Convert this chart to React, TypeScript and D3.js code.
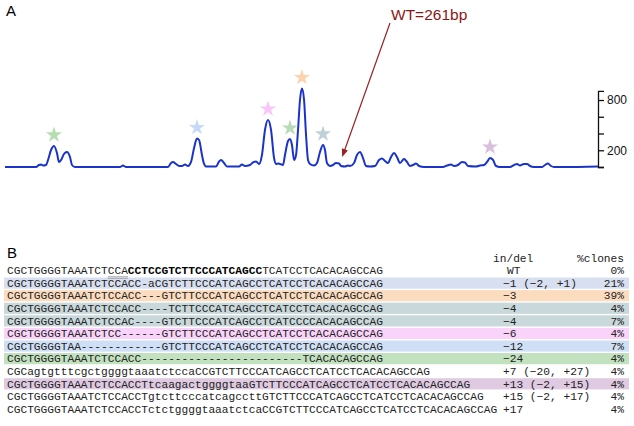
import React, { useEffect, useRef } from "react";
import * as d3 from "d3";

// fragment analysis trace: [size (bp), intensity (RFU)]
const trace: [number, number][] = [
  [232.0, 0], [234.67, 0], [234.92, 24], [235.1, 30], [235.27, 18], [235.53, 24],
  [235.7, 84], [235.96, 203], [236.21, 251], [236.47, 167], [236.64, 60], [236.82, 84],
  [237.07, 155], [237.33, 179], [237.59, 119], [237.76, 24], [238.02, 0], [241.89, 0],
  [242.15, 18], [242.41, 0], [246.02, 0], [246.28, 48], [246.45, 60], [246.71, 36],
  [246.97, 12], [247.22, 12], [247.48, 30], [247.74, 12], [248.0, 60], [248.26, 227],
  [248.51, 340], [248.69, 322], [248.94, 143], [249.12, 36], [249.29, 6], [250.15, 6],
  [250.41, 66], [250.58, 84], [250.84, 48], [251.09, 6], [252.13, 6], [252.38, 30],
  [252.64, 12], [253.07, 24], [253.33, 54], [253.59, 66], [253.85, 36], [254.1, 143],
  [254.36, 442], [254.62, 561], [254.88, 442], [255.14, 107], [255.31, 36], [255.48, 42],
  [255.65, 36], [255.91, 24], [256.08, 143], [256.34, 310], [256.51, 334], [256.68, 263],
  [256.86, 84], [257.03, 143], [257.2, 442], [257.37, 800], [257.54, 937], [257.72, 800],
  [257.89, 382], [258.06, 84], [258.23, 36], [258.58, 18], [258.83, 48], [259.09, 179],
  [259.35, 263], [259.52, 203], [259.69, 48], [259.95, 12], [260.21, 24], [260.47, 48],
  [260.73, 42], [260.9, 12], [261.24, 6], [261.5, 18], [261.67, 12], [262.02, 48],
  [262.27, 143], [262.53, 179], [262.79, 107], [263.05, 12], [263.39, 6], [263.82, 12],
  [264.17, 84], [264.42, 101], [264.68, 72], [264.94, 48], [265.2, 119], [265.46, 167],
  [265.71, 119], [265.97, 48], [266.32, 96], [266.57, 60], [266.83, 12], [267.09, 24],
  [267.35, 42], [267.61, 12], [268.04, 0], [269.67, 0], [270.02, 18], [270.36, 30],
  [270.62, 12], [270.96, 24], [271.31, 60], [271.56, 54], [271.82, 12], [272.51, 6],
  [272.85, 18], [273.2, 24], [273.46, 60], [273.71, 107], [273.97, 84], [274.23, 12],
  [274.57, 0], [275.43, 0], [275.78, 24], [276.04, 36], [276.29, 18], [276.64, 36],
  [276.9, 36], [277.15, 12], [277.5, 0], [278.19, 0], [278.44, 24], [278.7, 42],
  [278.96, 12], [279.22, 0], [279.99, 0], [283.0, 6],
];

// peaks marked with a star
const starSizes = [236.21, 248.51, 254.62, 256.51, 257.54, 259.35, 273.71];
const starRfu = [251, 340, 561, 334, 937, 263, 107];
const starColors = ["#b6dcb1", "#c6d9f6", "#f8c6f8", "#b9dcb8", "#fdd3ae", "#bfd0d7", "#d9bedd"];

const yTicks = [0, 200, 400, 600, 800];
const yLabelled = [200, 800];
const wtSize = 261;
const wtRfu = 120;
const wtLabel = "WT=261bp";

const sequences = [
  "CGCTGGGGTAAATCTCCACCTCCGTCTTCCCATCAGCCTCATCCTCACACAGCCAG",
  "CGCTGGGGTAAATCTCCACC-aCGTCTTCCCATCAGCCTCATCCTCACACAGCCAG",
  "CGCTGGGGTAAATCTCCACC---GTCTTCCCATCAGCCTCATCCTCACACAGCCAG",
  "CGCTGGGGTAAATCTCCACC----TCTTCCCATCAGCCTCATCCTCACACAGCCAG",
  "CGCTGGGGTAAATCTCCAC----GTCTTCCCATCAGCCTCATCCCCACACAGCCAG",
  "CGCTGGGGTAAATCTCC------GTCTTCCCATCAGCCTCATCCTCACACAGCCAG",
  "CGCTGGGGTAA------------GTCTTCCCATCAGCCTCATCCTCACACAGCCAG",
  "CGCTGGGGTAAATCTCCACC------------------------TCACACAGCCAG",
  "CGCagtgtttcgctggggtaaatctccaCCGTCTTCCCATCAGCCTCATCCTCACACAGCCAG",
  "CGCTGGGGTAAATCTCCACCTtcaagactggggtaaGTCTTCCCATCAGCCTCATCCTCACACAGCCAG",
  "CGCTGGGGTAAATCTCCACCTgtcttcccatcagccttGTCTTCCCATCAGCCTCATCCTCACACAGCCAG",
  "CGCTGGGGTAAATCTCCACCTctctggggtaaatctcaCCGTCTTCCCATCAGCCTCATCCTCACACAGCCAG",
];
const indels = [
  "WT", "\u22121 (\u22122, +1)", "\u22123", "\u22124", "\u22124", "\u22126", "\u221212", "\u221224",
  "+7 (\u221220, +27)", "+13 (\u22122, +15)", "+15 (\u22122, +17)", "+17",
];
const clones = ["0%", "21%", "39%", "4%", "7%", "4%", "7%", "4%", "4%", "4%", "4%", "4%"];
const rowColors = [
  "none", "#d7dff0", "#fcdcbf", "#c9d8db", "#c9d8db", "#fad3fa", "#cfdff5", "#c2e1bf",
  "none", "#dfcae2", "none", "none",
];
const boldRange = [18, 38];
const underlineRange = [15, 18];

const MONO = "'Liberation Mono', 'Courier New', monospace";
const SANS = "'Liberation Sans', Arial, Helvetica, sans-serif";

const App = () => {
  const svgRef = useRef<SVGSVGElement>(null);

  useEffect(() => {
    const svg = d3.select(svgRef.current);
    svg.selectAll("*").remove();

    // ---- panel A ----
    const x = d3.scaleLinear().domain([232, 283]).range([5, 598]);
    const y = d3.scaleLinear().domain([0, 910]).range([167, 90.8]);

    svg.append("text").attr("x", 6).attr("y", 16).attr("font-family", SANS)
      .attr("font-size", 15).text("A");

    const line = d3.line<[number, number]>()
      .x((d) => x(d[0]))
      .y((d) => y(d[1]))
      .curve(d3.curveMonotoneX);

    svg.append("path").datum(trace).attr("d", line).attr("fill", "none")
      .attr("stroke", "#1a33c8").attr("stroke-width", 2).attr("stroke-linejoin", "round");

    const ax = svg.append("g").attr("transform", "translate(598,0)")
      .call(d3.axisRight(y).tickValues(yTicks).tickSize(6)
        .tickFormat((d) => (yLabelled.includes(+d) ? String(d) : "")));
    ax.attr("font-family", SANS).attr("font-size", 12);
    ax.selectAll("path,line").attr("stroke", "#111").attr("stroke-width", 1.3);
    ax.selectAll("text").attr("fill", "#111");

    const star = d3.symbol(d3.symbolStar, 80);
    svg.append("g").selectAll("path").data(starSizes).join("path")
      .attr("d", star)
      .attr("transform", (d, i) => `translate(${x(d)},${y(starRfu[i]) - 11})`)
      .attr("fill", (d, i) => starColors[i]);

    // WT annotation arrow
    const tx = x(wtSize), ty = y(wtRfu);
    const sx = 390, sy = 23;
    const ang = Math.atan2(ty - sy, tx - sx);
    svg.append("line").attr("x1", sx).attr("y1", sy)
      .attr("x2", tx - 5 * Math.cos(ang)).attr("y2", ty - 5 * Math.sin(ang))
      .attr("stroke", "#9a2222").attr("stroke-width", 1.2);
    const hl = 8, hw = 3.2;
    const bx = tx - hl * Math.cos(ang), by = ty - hl * Math.sin(ang);
    svg.append("path")
      .attr("d", `M${tx},${ty}L${bx + hw * Math.sin(ang)},${by - hw * Math.cos(ang)}L${bx - hw * Math.sin(ang)},${by + hw * Math.cos(ang)}Z`)
      .attr("fill", "#9a2222");
    svg.append("text").attr("x", 391).attr("y", 20).attr("font-family", SANS)
      .attr("font-size", 15.5).attr("fill", "#8c1616").text(wtLabel);

    // ---- panel B ----
    svg.append("text").attr("x", 7).attr("y", 258).attr("font-family", SANS)
      .attr("font-size", 15).text("B");

    const rowY = d3.scaleLinear().domain([0, sequences.length - 1]).range([270.5, 409]);
    const fs = 11.2;
    const cw = fs * 0.6;
    const seqX = 7;

    const hdr = svg.append("g").attr("font-family", MONO).attr("font-size", fs).attr("fill", "#222");
    hdr.append("text").attr("x", 493).attr("y", 262).text("in/del");
    hdr.append("text").attr("x", 624).attr("y", 262).attr("text-anchor", "end").text("%clones");

    const rows = svg.append("g").selectAll("g").data(sequences).join("g")
      .attr("transform", (d, i) => `translate(0,${rowY(i)})`);

    rows.append("rect").attr("x", 4).attr("y", -5.6).attr("width", 625).attr("height", 11.2)
      .attr("fill", (d, i) => rowColors[i]);

    const seqText = rows.append("text").attr("x", seqX).attr("y", 3.8)
      .attr("font-family", MONO).attr("font-size", fs).attr("fill", "#222");
    seqText.each(function (d, i) {
      const t = d3.select(this);
      if (i === 0) {
        t.append("tspan").text(d.slice(0, boldRange[0]));
        t.append("tspan").attr("font-weight", "bold").attr("fill", "#000").text(d.slice(boldRange[0], boldRange[1]));
        t.append("tspan").text(d.slice(boldRange[1]));
      } else {
        t.text(d);
      }
    });

    // double underline on the PAM-adjacent bases of the WT row
    [6.2, 7.8].forEach((dy) => {
      svg.append("line")
        .attr("x1", seqX + underlineRange[0] * cw).attr("x2", seqX + underlineRange[1] * cw)
        .attr("y1", rowY(0) + dy).attr("y2", rowY(0) + dy)
        .attr("stroke", "#8a8a8a").attr("stroke-width", 0.7);
    });

    rows.append("text").attr("x", (d, i) => (i === 0 ? 507 : 503)).attr("y", 3.8)
      .attr("font-family", MONO).attr("font-size", fs).attr("fill", "#222")
      .text((d, i) => indels[i]);

    rows.append("text").attr("x", 624).attr("y", 3.8).attr("text-anchor", "end")
      .attr("font-family", MONO).attr("font-size", fs).attr("fill", "#222")
      .text((d, i) => clones[i]);
  }, []);

  return (
    <svg
      ref={svgRef}
      width={634}
      height={426}
      style={{ position: "absolute", left: 0, top: 0, background: "#fff" }}
    ></svg>
  );
};

export default App;
